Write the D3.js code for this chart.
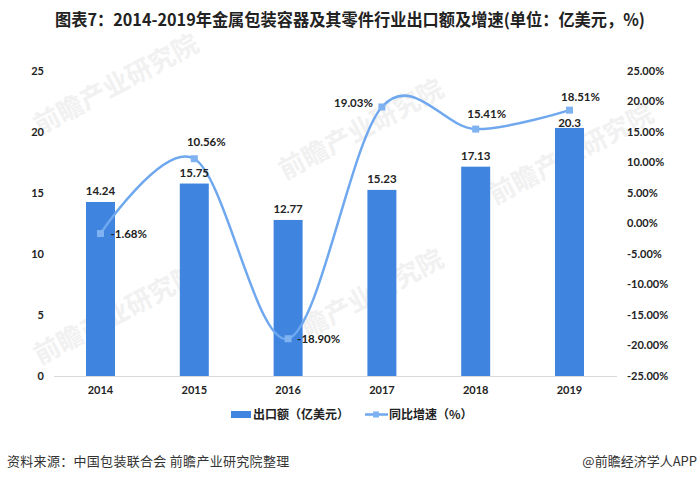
<!DOCTYPE html>
<html><head><meta charset="utf-8">
<script src="https://cdn.jsdelivr.net/npm/d3@7"></script>
<style>body{margin:0;background:#fff}svg{display:block}</style>
</head><body>
<svg id="c" width="700" height="481"></svg>
<script>
const years = ["2014","2015","2016","2017","2018","2019"];
const exportValues = [14.24, 15.75, 12.77, 15.23, 17.13, 20.3];
const growthValues = [-1.68, 10.56, -18.90, 19.03, 15.41, 18.51];
const leftTicks = [0, 5, 10, 15, 20, 25];
const rightTicks = [-25, -20, -15, -10, -5, 0, 5, 10, 15, 20, 25];
const titleText = "图表7：2014-2019年金属包装容器及其零件行业出口额及增速(单位：亿美元，%)";
const legendLabels = ["出口额（亿美元）", "同比增速（%）"];
const sourceText = "资料来源：中国包装联合会 前瞻产业研究院整理";
const brandText = "@前瞻经济学人APP";
const watermarkText = "前瞻产业研究院";

const svg = d3.select("#c");
const cjk = "'Noto Sans CJK SC','Noto Sans',sans-serif";
const num = "Lato,'Open Sans','Liberation Sans',sans-serif";
const barColor = "#3f85e0", lineColor = "#6fa8ee", markColor = "#7fb2f1";
const pct = d => d.toFixed(2) + "%";

// faint watermarks
const wm = [[40,135],[285,180],[495,205],[40,365],[285,350]];
wm.forEach(([x,y])=>{
  svg.append("text").text(watermarkText)
    .attr("transform",`translate(${x},${y}) rotate(-28)`)
    .attr("font-family",cjk).attr("font-weight",700)
    .attr("font-size",26).attr("fill","#f1f1f1");
});

const x = d3.scaleBand().domain(years).range([53.6, 616.4]).paddingInner(0.691).paddingOuter(0.3455);
const yL = d3.scaleLinear().domain([0,25]).range([376, 70.5]);
const yR = d3.scaleLinear().domain([-25,25]).range([376, 70.5]);

// title
svg.append("text").text(titleText).attr("x",350).attr("y",26).attr("text-anchor","middle")
  .attr("font-family",cjk).attr("font-weight",700).attr("font-size",17).attr("fill","#222")
  .attr("textLength",590).attr("lengthAdjust","spacingAndGlyphs");

// left axis
const axL = svg.append("g").attr("transform","translate(44,0)")
  .call(d3.axisLeft(yL).tickValues(leftTicks).tickSize(0).tickPadding(0));
axL.select(".domain").remove();
axL.selectAll("text").attr("font-family",num).attr("font-weight",700).attr("font-size",11).attr("fill","#222");

// right axis
const axR = svg.append("g").attr("transform","translate(627,0)")
  .call(d3.axisRight(yR).tickValues(rightTicks).tickSize(0).tickPadding(0).tickFormat(pct));
axR.select(".domain").remove();
axR.selectAll("text").attr("font-family",num).attr("font-weight",700).attr("font-size",11).attr("fill","#222");

// bottom axis
const axB = svg.append("g").attr("transform","translate(0,376)")
  .call(d3.axisBottom(x).tickSize(0).tickPadding(10));
axB.select(".domain").attr("stroke","#d9d9d9").attr("d","M54,0.5H617");
axB.selectAll("text").attr("font-family",num).attr("font-weight",700).attr("font-size",11).attr("fill","#222");

// bars
svg.append("g").selectAll("rect").data(exportValues).join("rect")
  .attr("x",(d,i)=>x(years[i])).attr("width",x.bandwidth())
  .attr("y",d=>yL(d)).attr("height",d=>yL(0)-yL(d)).attr("fill",barColor);

// line
const cx = i => x(years[i]) + x.bandwidth()/2;
const line = d3.line().x((d,i)=>cx(i)).y(d=>yR(d)).curve(d3.curveCardinal.tension(0));
svg.append("path").datum(growthValues).attr("d",line).attr("fill","none")
  .attr("stroke",lineColor).attr("stroke-width",2.5);
svg.append("g").selectAll("rect").data(growthValues).join("rect")
  .attr("x",(d,i)=>cx(i)-3.5).attr("y",d=>yR(d)-3.5).attr("width",7).attr("height",7).attr("fill",markColor);

// bar labels (drawn above the line)
const barLabelDy = [-7,-7,-7,-7,-7,-0.5];
svg.append("g").selectAll("text").data(exportValues).join("text")
  .text(d=>d).attr("x",(d,i)=>x(years[i])+x.bandwidth()/2).attr("y",(d,i)=>yL(d)+barLabelDy[i])
  .attr("text-anchor","middle").attr("font-family",num).attr("font-weight",700).attr("font-size",11.5).attr("fill","#222");

const lblPos = [[10,4,"start"],[12,-13,"middle"],[9,4,"start"],[-9,0,"end"],[11,-11,"middle"],[11,-9,"middle"]];
svg.append("g").selectAll("text").data(growthValues).join("text")
  .text(pct)
  .attr("x",(d,i)=>cx(i)+lblPos[i][0]).attr("y",(d,i)=>yR(d)+lblPos[i][1])
  .attr("text-anchor",(d,i)=>lblPos[i][2])
  .attr("font-family",num).attr("font-weight",700).attr("font-size",11.5).attr("fill","#222");

// legend
const lg = svg.append("g");
lg.append("rect").attr("x",231).attr("y",411).attr("width",20).attr("height",7).attr("fill",barColor);
lg.append("text").text(legendLabels[0]).attr("x",253).attr("y",419)
  .attr("font-family",cjk).attr("font-weight",700).attr("font-size",12).attr("fill","#222");
lg.append("line").attr("x1",365).attr("x2",388).attr("y1",414.5).attr("y2",414.5).attr("stroke",lineColor).attr("stroke-width",2.5);
lg.append("rect").attr("x",373).attr("y",411.5).attr("width",6).attr("height",6).attr("fill",markColor);
lg.append("text").text(legendLabels[1]).attr("x",389).attr("y",419)
  .attr("font-family",cjk).attr("font-weight",700).attr("font-size",12).attr("fill","#222");

// footer
svg.append("text").text(sourceText).attr("x",7).attr("y",466)
  .attr("font-family",cjk).attr("font-size",13).attr("fill","#333").attr("letter-spacing",0.3);
svg.append("text").text(brandText).attr("x",697).attr("y",466).attr("text-anchor","end")
  .attr("font-family",cjk).attr("font-size",13).attr("fill","#333");
</script>
</body></html>
